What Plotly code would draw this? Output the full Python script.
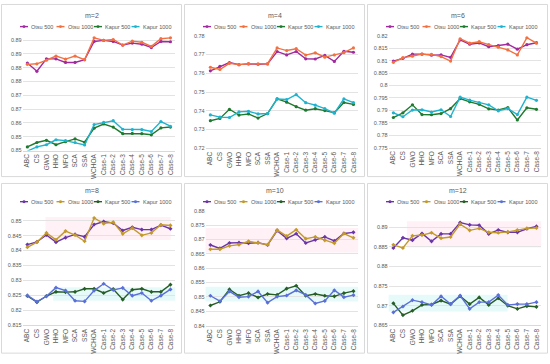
import plotly.graph_objects as go

# ---------------- data ----------------
categories = ["ABC", "CS", "GWO", "HHO", "MFO", "SCA", "SSA", "WCHOA",
              "Case-1", "Case-2", "Case-3", "Case-4", "Case-5", "Case-6", "Case-7", "Case-8"]
series_names = ["Otsu 500", "Otsu 1000", "Kapur 500", "Kapur 1000"]
panel_titles = ["m=2", "m=4", "m=6", "m=8", "m=10", "m=12"]

m2_otsu500 = [0.8817, 0.8787, 0.8832, 0.8832, 0.8819, 0.8819, 0.8829, 0.8895,
              0.8899, 0.8895, 0.8882, 0.8889, 0.8885, 0.8873, 0.8895, 0.8894]
m2_otsu1000 = [0.8812, 0.8814, 0.8827, 0.8842, 0.8831, 0.8842, 0.8829, 0.8908,
               0.8899, 0.8902, 0.8882, 0.8896, 0.8892, 0.8877, 0.8905, 0.8908]
m2_kapur500 = [0.8513, 0.8529, 0.8537, 0.8521, 0.8532, 0.8542, 0.8530, 0.8581,
               0.8596, 0.8585, 0.8561, 0.8562, 0.8561, 0.8557, 0.8582, 0.8585]
m2_kapur1000 = [0.8498, 0.8513, 0.8521, 0.8539, 0.8536, 0.8529, 0.8520, 0.8594,
                0.8602, 0.8608, 0.8577, 0.8576, 0.8576, 0.8569, 0.8605, 0.8588]

m4_otsu500 = [0.7613, 0.7637, 0.7657, 0.7646, 0.7650, 0.7648, 0.7650, 0.7716,
              0.7698, 0.7716, 0.7677, 0.7676, 0.7695, 0.7663, 0.7717, 0.7712]
m4_otsu1000 = [0.7632, 0.7620, 0.7653, 0.7646, 0.7651, 0.7650, 0.7651, 0.7735,
               0.7721, 0.7731, 0.7697, 0.7709, 0.7686, 0.7698, 0.7710, 0.7735]
m4_kapur500 = [0.7347, 0.7359, 0.7408, 0.7377, 0.7383, 0.7361, 0.7385, 0.7463,
               0.7446, 0.7422, 0.7403, 0.7411, 0.7401, 0.7390, 0.7444, 0.7434]
m4_kapur1000 = [0.7378, 0.7366, 0.7364, 0.7394, 0.7397, 0.7383, 0.7385, 0.7463,
                0.7460, 0.7486, 0.7443, 0.7430, 0.7411, 0.7387, 0.7463, 0.7443]

m6_otsu500 = [0.8098, 0.8109, 0.8126, 0.8126, 0.8122, 0.8123, 0.8113, 0.8183,
              0.8166, 0.8171, 0.8156, 0.8160, 0.8166, 0.8146, 0.8164, 0.8172]
m6_otsu1000 = [0.8093, 0.8112, 0.8118, 0.8126, 0.8125, 0.8116, 0.8098, 0.8188,
               0.8170, 0.8176, 0.8164, 0.8154, 0.8143, 0.8123, 0.8192, 0.8170]
m6_kapur500 = [0.7871, 0.7890, 0.7922, 0.7883, 0.7882, 0.7887, 0.7907, 0.7947,
               0.7934, 0.7924, 0.7906, 0.7901, 0.7911, 0.7861, 0.7910, 0.7904]
m6_kapur1000 = [0.7890, 0.7874, 0.7901, 0.7902, 0.7893, 0.7902, 0.7875, 0.7953,
                0.7941, 0.7931, 0.7922, 0.7898, 0.7907, 0.7883, 0.7953, 0.7940]

m8_otsu500 = [0.8420, 0.8429, 0.8452, 0.8428, 0.8443, 0.8454, 0.8446, 0.8487,
              0.8497, 0.8492, 0.8467, 0.8478, 0.8470, 0.8470, 0.8485, 0.8473]
m8_otsu1000 = [0.8411, 0.8428, 0.8459, 0.8436, 0.8465, 0.8452, 0.8431, 0.8509,
               0.8490, 0.8495, 0.8456, 0.8475, 0.8451, 0.8459, 0.8486, 0.8484]
m8_kapur500 = [0.8248, 0.8227, 0.8248, 0.8262, 0.8261, 0.8262, 0.8272, 0.8272,
               0.8258, 0.8271, 0.8236, 0.8269, 0.8272, 0.8262, 0.8262, 0.8286]
m8_kapur1000 = [0.8250, 0.8229, 0.8247, 0.8276, 0.8266, 0.8232, 0.8230, 0.8266,
                0.8289, 0.8268, 0.8275, 0.8249, 0.8258, 0.8232, 0.8249, 0.8270]

m10_otsu500 = [0.8681, 0.8669, 0.8688, 0.8689, 0.8687, 0.8689, 0.8681, 0.8731,
               0.8704, 0.8720, 0.8688, 0.8699, 0.8709, 0.8695, 0.8721, 0.8725]
m10_otsu1000 = [0.8666, 0.8666, 0.8678, 0.8682, 0.8694, 0.8689, 0.8682, 0.8733,
                0.8712, 0.8734, 0.8703, 0.8709, 0.8697, 0.8687, 0.8721, 0.8706]
m10_kapur500 = [0.8470, 0.8483, 0.8526, 0.8504, 0.8513, 0.8498, 0.8510, 0.8507,
                0.8529, 0.8539, 0.8504, 0.8510, 0.8504, 0.8502, 0.8513, 0.8520]
m10_kapur1000 = [0.8504, 0.8485, 0.8519, 0.8499, 0.8501, 0.8519, 0.8480, 0.8501,
                 0.8505, 0.8523, 0.8507, 0.8477, 0.8486, 0.8523, 0.8499, 0.8506]

m12_otsu500 = [0.8847, 0.8873, 0.8867, 0.8884, 0.8864, 0.8883, 0.8883, 0.8912,
               0.8906, 0.8905, 0.8883, 0.8893, 0.8887, 0.8887, 0.8896, 0.8902]
m12_otsu1000 = [0.8855, 0.8847, 0.8878, 0.8880, 0.8886, 0.8872, 0.8875, 0.8908,
                0.8892, 0.8897, 0.8887, 0.8886, 0.8888, 0.8893, 0.8897, 0.8898]
m12_kapur500 = [0.8706, 0.8676, 0.8687, 0.8702, 0.8703, 0.8713, 0.8704, 0.8724,
                0.8704, 0.8721, 0.8702, 0.8719, 0.8700, 0.8692, 0.8699, 0.8697]
m12_kapur1000 = [0.8683, 0.8698, 0.8714, 0.8709, 0.8702, 0.8724, 0.8704, 0.8726,
                 0.8692, 0.8709, 0.8709, 0.8727, 0.8702, 0.8704, 0.8704, 0.8709]

# y-axis tick values and labels (as printed)
m2_ticks = [0.85, 0.855, 0.86, 0.865, 0.87, 0.875, 0.88, 0.885, 0.89]
m2_ticklabels = ["0.85", "0.85", "0.86", "0.87", "0.87", "0.88", "0.88", "0.89", "0.89"]
m4_ticks = [0.72, 0.73, 0.74, 0.75, 0.76, 0.77, 0.78]
m4_ticklabels = ["0.72", "0.73", "0.74", "0.75", "0.76", "0.77", "0.78"]
m6_ticks = [0.775, 0.78, 0.785, 0.79, 0.795, 0.8, 0.805, 0.81, 0.815, 0.82]
m6_ticklabels = ["0.775", "0.78", "0.785", "0.79", "0.795", "0.8", "0.805", "0.81", "0.815", "0.82"]
m8_ticks = [0.815, 0.82, 0.825, 0.83, 0.835, 0.84, 0.845, 0.85]
m8_ticklabels = ["0.815", "0.82", "0.825", "0.83", "0.835", "0.84", "0.845", "0.85"]
m10_ticks = [0.84, 0.845, 0.85, 0.855, 0.86, 0.865, 0.87, 0.875, 0.88]
m10_ticklabels = ["0.84", "0.845", "0.85", "0.855", "0.86", "0.865", "0.87", "0.875", "0.88"]
m12_ticks = [0.865, 0.87, 0.875, 0.88, 0.885, 0.89]
m12_ticklabels = ["0.865", "0.87", "0.875", "0.88", "0.885", "0.89"]

panel_series = [
    [m2_otsu500, m2_otsu1000, m2_kapur500, m2_kapur1000],
    [m4_otsu500, m4_otsu1000, m4_kapur500, m4_kapur1000],
    [m6_otsu500, m6_otsu1000, m6_kapur500, m6_kapur1000],
    [m8_otsu500, m8_otsu1000, m8_kapur500, m8_kapur1000],
    [m10_otsu500, m10_otsu1000, m10_kapur500, m10_kapur1000],
    [m12_otsu500, m12_otsu1000, m12_kapur500, m12_kapur1000],
]
panel_ticks = [(m2_ticks, m2_ticklabels), (m4_ticks, m4_ticklabels), (m6_ticks, m6_ticklabels),
               (m8_ticks, m8_ticklabels), (m10_ticks, m10_ticklabels), (m12_ticks, m12_ticklabels)]

# ---------------- styling / layout ----------------
W, H = 550, 364
colors_top = ["#A02A9E", "#F4703F", "#1E7A2E", "#1FB3D0"]
colors_bot = ["#6A35A8", "#C39A2A", "#265E26", "#5A70D8"]

col_x0 = [0, 183, 366]
row_y0 = [0, 182]
# (plot top, plot bottom) in pixels, and y range for each panel
panel_geom = [
    (33.0, 150.0, [0.85, 0.89167]),
    (33.3, 147.7, [0.72, 0.78]),
    (33.3, 147.0, [0.775, 0.82]),
    (213.7, 327.7, [0.815, 0.8525]),
    (211.3, 328.0, [0.84, 0.88]),
    (218.0, 327.7, [0.865, 0.8925]),
]


def fx(px):
    return px / W


def fy(py):
    return 1 - py / H


FONT = "Liberation Sans"
fig = go.Figure()
layout = dict(width=W, height=H, margin=dict(l=0, r=0, t=0, b=0),
              paper_bgcolor="white", plot_bgcolor="white", showlegend=False,
              font=dict(family=FONT, color="#595959"))
shapes = []
annotations = []

for p in range(6):
    r, c = divmod(p, 3)
    cx, ry = col_x0[c], row_y0[r]
    top, bot, yr = panel_geom[p]
    idx = "" if p == 0 else str(p + 1)
    cols = colors_top if r == 0 else colors_bot
    tv, tt = panel_ticks[p]

    layout["xaxis" + idx] = dict(
        domain=[fx(cx + 22.6), fx(cx + 175.2)], anchor="y" + idx,
        type="category", range=[-0.5, 15.5], tickangle=-90,
        tickfont=dict(size=6.5, color="#595959", family=FONT),
        showgrid=False, showline=True, linecolor="#D9D9D9", linewidth=1,
        ticks="", zeroline=False, fixedrange=True)
    layout["yaxis" + idx] = dict(
        domain=[fy(bot), fy(top)], anchor="x" + idx, range=yr,
        tickvals=tv, ticktext=tt, tickfont=dict(size=5.5, color="#595959", family=FONT),
        showgrid=True, gridcolor="#E3E3E3", gridwidth=0.8, zeroline=False,
        showline=False, ticks="", fixedrange=True)

    for j, vals in enumerate(panel_series[p]):
        fig.add_trace(go.Scatter(
            x=categories, y=vals, name=series_names[j], mode="lines+markers",
            xaxis="x" + idx, yaxis="y" + idx, cliponaxis=False,
            line=dict(color=cols[j], width=1.4),
            marker=dict(color=cols[j], size=3.2,
                        symbol="circle" if r == 0 else "diamond")))

    # panel frame
    shapes.append(dict(type="rect", xref="paper", yref="paper",
                       x0=fx(cx + 1.5), x1=fx(cx + 181.5),
                       y0=fy(ry + (176.5 if r == 0 else 174)), y1=fy(ry + 1.5),
                       line=dict(color="#D9D9D9", width=1), layer="below"))

    # title
    title_y = ry + (13 if r == 0 else 8.5)
    annotations.append(dict(text=panel_titles[p], x=fx(cx + 92), y=fy(title_y),
                            xref="paper", yref="paper", showarrow=False,
                            xanchor="center", yanchor="middle",
                            font=dict(size=7, color="#595959", family=FONT)))

    # legend
    ly = ry + (24 if r == 0 else 20)
    sample_x = [20.0, 56.5, 94.0, 131.5]
    for j in range(4):
        x0 = cx + sample_x[j]
        shapes.append(dict(type="line", xref="paper", yref="paper",
                           x0=fx(x0), x1=fx(x0 + 8), y0=fy(ly), y1=fy(ly),
                           line=dict(color=cols[j], width=1.4)))
        shapes.append(dict(type="circle", xref="paper", yref="paper",
                           x0=fx(x0 + 2.5), x1=fx(x0 + 5.5), y0=fy(ly + 1.5), y1=fy(ly - 1.5),
                           fillcolor=cols[j], line=dict(width=0)))
        annotations.append(dict(text=series_names[j], x=fx(x0 + 9), y=fy(ly),
                                xref="paper", yref="paper", showarrow=False,
                                xanchor="left", yanchor="middle",
                                font=dict(size=5.5, color="#595959", family=FONT)))

# faint highlight bands in the lower panels
bands = [
    ("x4", "y4", 0.15, 0.97, 0.8435, 0.8512, "rgba(255,170,200,0.16)"),
    ("x4", "y4", 0.20, 1.00, 0.8232, 0.8277, "rgba(120,230,230,0.18)"),
    ("x5", "y5", 0.00, 1.00, 0.8655, 0.8740, "rgba(255,170,200,0.16)"),
    ("x5", "y5", 0.00, 1.00, 0.8484, 0.8535, "rgba(120,230,230,0.18)"),
    ("x6", "y6", 0.12, 1.00, 0.8848, 0.8915, "rgba(255,170,200,0.16)"),
    ("x6", "y6", 0.00, 0.78, 0.8685, 0.8728, "rgba(120,230,230,0.18)"),
]
for xa, ya, x0, x1, y0, y1, col in bands:
    shapes.append(dict(type="rect", xref=xa + " domain", yref=ya,
                       x0=x0, x1=x1, y0=y0, y1=y1, fillcolor=col,
                       line=dict(width=0), layer="below"))

layout["shapes"] = shapes
layout["annotations"] = annotations
fig.update_layout(**layout)
fig.write_html(
    "out.html",
    config={"displayModeBar": False},
    post_script="document.body.style.margin='0px';document.body.style.overflow='hidden';",
)
